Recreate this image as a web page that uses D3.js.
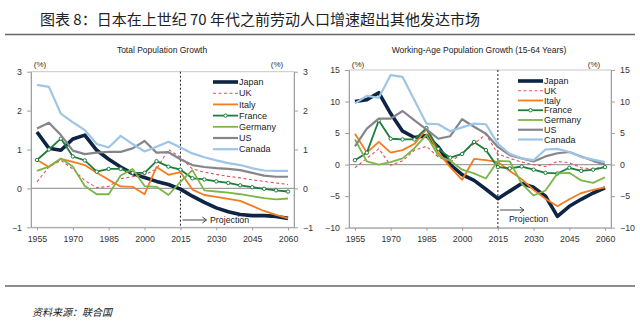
<!DOCTYPE html>
<html>
<head>
<meta charset="utf-8">
<script src="https://cdn.jsdelivr.net/npm/d3@7"></script>
<style>
  body { margin: 0; background: #fff; }
  svg { display: block; font-family: "Liberation Sans", Arial, sans-serif; }
</style>
</head>
<body>
<svg id="chart" width="640" height="325"></svg>
<script>
// Years on the category axis, one point every 5 years
const years = d3.range(1955, 2061, 5);
const tickYears = [1955, 1970, 1985, 2000, 2015, 2030, 2045, 2060];
const countries = ["Japan", "UK", "Italy", "France", "Germany", "US", "Canada"];

// Total population growth (%)
const totJapan   = [1.45, 1.03, 0.98, 1.27, 1.37, 0.98, 0.75, 0.55, 0.38, 0.28, 0.18, 0.1, -0.02, -0.2, -0.36, -0.5, -0.6, -0.67, -0.7, -0.7, -0.72, -0.77];
const totUK      = [0.17, 0.55, 0.72, 0.5, 0.2, 0.02, 0.05, 0.25, 0.3, 0.35, 0.5, 1.0, 0.8, 0.5, 0.42, 0.36, 0.31, 0.27, 0.22, 0.18, 0.14, 0.1];
const totItaly   = [0.73, 0.55, 0.76, 0.68, 0.6, 0.4, 0.22, 0.05, 0.04, -0.15, 0.55, 0.35, 0.42, -0.03, -0.17, -0.22, -0.27, -0.32, -0.45, -0.58, -0.68, -0.77];
const totFrance  = [0.73, 1.0, 1.28, 0.82, 0.72, 0.43, 0.5, 0.5, 0.4, 0.4, 0.7, 0.56, 0.48, 0.26, 0.23, 0.18, 0.14, 0.08, 0.03, -0.01, -0.05, -0.08];
const totGermany = [0.45, 0.56, 0.77, 0.56, 0.06, -0.15, -0.15, 0.33, 0.5, 0.06, 0.04, -0.17, 0.17, 0.47, -0.05, -0.08, -0.11, -0.15, -0.2, -0.25, -0.28, -0.26];
const totUS      = [1.54, 1.69, 1.37, 0.97, 0.88, 0.92, 0.94, 0.94, 1.03, 1.22, 0.92, 0.93, 0.75, 0.6, 0.55, 0.52, 0.5, 0.47, 0.4, 0.33, 0.3, 0.3];
const totCanada  = [2.66, 2.61, 1.92, 1.7, 1.5, 1.14, 1.05, 1.35, 1.14, 0.95, 1.07, 1.2, 1.05, 0.9, 0.8, 0.72, 0.65, 0.6, 0.52, 0.46, 0.45, 0.45];

// Working-age (15-64) population growth (%)
const wapJapan   = [10, 10.3, 11.4, 8.1, 5.3, 4.3, 4.6, 2.8, 0, -1.6, -2.5, -3.9, -5.4, -4.2, -3.0, -3.6, -5.0, -8.2, -6.6, -5.5, -4.5, -3.7];
const wapUK      = [-0.5, 1.0, 2.5, -0.1, 0.6, 2.3, 2.9, 1.2, 0.4, 1.8, 3.3, 4.8, 1.7, 1.0, 0.4, 0.0, -0.3, 0.5, 0.3, -0.5, -0.7, -0.3];
const wapItaly   = [4.9, 1.9, 3.6, 1.9, 2.3, 3.3, 5.6, 1.9, -0.4, -2.4, 0.9, 0.7, 0.4, -1.0, -2.3, -4.0, -5.4, -6.6, -5.5, -4.5, -4.0, -3.6];
const wapFrance  = [0.7, 1.9, 7.0, 4.1, 4.0, 4.0, 5.8, 2.5, 1.1, 1.7, 3.6, 2.3, -0.4, -0.6, -0.3, -0.8, -1.3, -1.4, -0.5, -1.0, -0.8, -0.4];
const wapGermany = [4.0, 0.5, 0.0, 0.4, 1.0, 2.6, 4.7, 1.4, 0.6, -0.8, -1.4, -2.2, 0.6, 0.5, -3.0, -4.9, -4.1, -1.4, -1.3, -2.5, -2.9, -2.0];
const wapUS      = [2.9, 5.7, 7.3, 7.3, 8.5, 7.0, 5.6, 4.1, 4.5, 7.2, 6.0, 4.9, 2.8, 1.5, 1.0, 0.5, 1.3, 1.8, 2.0, 1.3, 0.6, 0.0];
const wapCanada  = [9.7, 10.9, 10.6, 14.2, 13.9, 10.2, 6.5, 6.4, 5.3, 5.9, 6.5, 6.4, 3.3, 1.7, 1.0, 0.7, 2.4, 2.5, 2.0, 1.2, 0.8, 0.4];

const totTicks = [-1, 0, 1, 2, 3];
const wapTicks = [-10, -5, 0, 5, 10, 15];

// line style for each country
const styles = {
  Japan:   { color: "#0d2444", width: 3.6 },
  UK:      { color: "#e0505a", width: 1.1, dash: "3,2.5" },
  Italy:   { color: "#f47b20", width: 1.8 },
  France:  { color: "#1e7d3c", width: 1.8, marker: true },
  Germany: { color: "#7ab648", width: 1.8 },
  US:      { color: "#85858c", width: 2.2 },
  Canada:  { color: "#9fc5e6", width: 2.2 }
};

const svg = d3.select("#chart");

// page title and rules
svg.append("text")
  .attr("x", 40).attr("y", 25)
  .attr("font-family", "'Noto Sans CJK SC', sans-serif")
  .attr("font-size", 15).attr("fill", "#222")
  .text("图表 8：日本在上世纪 70 年代之前劳动人口增速超出其他发达市场");
svg.append("line").attr("x1", 5).attr("x2", 635).attr("y1", 34.5).attr("y2", 34.5)
  .attr("stroke", "#666").attr("stroke-width", 1.6);
svg.append("line").attr("x1", 5).attr("x2", 635).attr("y1", 286).attr("y2", 286)
  .attr("stroke", "#666").attr("stroke-width", 1.6);
svg.append("text")
  .attr("x", 32).attr("y", 316)
  .attr("font-family", "'Noto Sans CJK SC', sans-serif")
  .attr("font-size", 10).attr("font-style", "italic").attr("fill", "#222")
  .text("资料来源：联合国");

function drawPanel(p) {
  const g = svg.append("g");
  const x = d3.scalePoint().domain(years).range([p.left, p.right]).padding(0.5);
  const y = d3.scaleLinear().domain(p.domain).range([p.bottom, p.top]);

  // title and unit labels
  g.append("text").attr("x", p.titleX).attr("y", 53).attr("text-anchor", "middle")
    .attr("font-size", 8.5).attr("fill", "#222").text(p.title);
  g.append("text").attr("x", p.left + 9).attr("y", 66.5).attr("text-anchor", "middle")
    .attr("font-size", 8).attr("fill", "#333").text("(%)");
  g.append("text").attr("x", p.right - 17).attr("y", 66.5).attr("text-anchor", "middle")
    .attr("font-size", 8).attr("fill", "#333").text("(%)");

  // frame
  g.append("rect").attr("x", p.left).attr("y", p.top)
    .attr("width", p.right - p.left).attr("height", p.bottom - p.top)
    .attr("fill", "none").attr("stroke", "#c8c8c8").attr("stroke-width", 1);

  // axes
  const styleAxis = sel => {
    sel.select(".domain").attr("stroke", "#a0a0a0");
    sel.selectAll(".tick line").attr("stroke", "#a0a0a0");
    sel.selectAll(".tick text").attr("fill", "#333").attr("font-size", 8.8)
      .attr("font-family", "'Liberation Sans', Arial, sans-serif");
  };
  const fmt = d3.format("d");
  g.append("g").attr("transform", `translate(${p.left},0)`)
    .call(d3.axisLeft(y).tickValues(p.ticks).tickFormat(fmt).tickSize(4).tickPadding(5).tickSizeOuter(0))
    .call(styleAxis);
  g.append("g").attr("transform", `translate(${p.right},0)`)
    .call(d3.axisRight(y).tickValues(p.ticks).tickFormat(fmt).tickSize(4).tickPadding(5).tickSizeOuter(0))
    .call(styleAxis);
  g.append("g").attr("transform", `translate(0,${p.bottom})`)
    .call(d3.axisBottom(x).tickValues(tickYears).tickSize(3).tickPadding(5).tickSizeOuter(0))
    .call(styleAxis);

  // zero line
  g.append("line").attr("x1", p.left).attr("x2", p.right)
    .attr("y1", y(0)).attr("y2", y(0))
    .attr("stroke", "#a0a0a0").attr("stroke-width", 1.2);

  // projection divider
  const xp = x(2015);
  g.append("line").attr("x1", xp).attr("x2", xp).attr("y1", p.top).attr("y2", p.bottom)
    .attr("stroke", "#222").attr("stroke-width", 1).attr("stroke-dasharray", "2,2");

  // lines
  const line = d3.line().x((d, i) => x(years[i])).y(d => y(d));
  countries.forEach(c => {
    const s = styles[c];
    g.append("path").datum(p.series[c])
      .attr("d", line)
      .attr("fill", "none")
      .attr("stroke", s.color)
      .attr("stroke-width", s.width)
      .attr("stroke-linejoin", "round")
      .attr("stroke-dasharray", s.dash || null);
    if (s.marker) {
      g.selectAll(null).data(p.series[c]).enter().append("circle")
        .attr("cx", (d, i) => x(years[i])).attr("cy", d => y(d))
        .attr("r", 1.7).attr("fill", "#fff")
        .attr("stroke", s.color).attr("stroke-width", 1);
    }
  });

  // projection arrow and label
  const ay = p.arrowY;
  g.append("line").attr("x1", xp + 2).attr("x2", xp + 26).attr("y1", ay).attr("y2", ay)
    .attr("stroke", "#333").attr("stroke-width", 0.9);
  g.append("path")
    .attr("d", `M${xp + 22},${ay - 3}L${xp + 26},${ay}L${xp + 22},${ay + 3}`)
    .attr("fill", "none").attr("stroke", "#333").attr("stroke-width", 0.9);
  g.append("text").attr("x", p.projX).attr("y", p.projY)
    .attr("font-size", 8.8).attr("fill", "#222").text("Projection");

  // legend
  const lg = g.append("g");
  countries.forEach((c, i) => {
    const s = styles[c];
    const ly = p.legY + i * p.legStep;
    lg.append("line").attr("x1", p.legX).attr("x2", p.legX + 25)
      .attr("y1", ly).attr("y2", ly)
      .attr("stroke", s.color).attr("stroke-width", s.width)
      .attr("stroke-dasharray", s.dash || null);
    if (s.marker) {
      lg.append("circle").attr("cx", p.legX + 12.5).attr("cy", ly).attr("r", 1.7)
        .attr("fill", "#fff").attr("stroke", s.color).attr("stroke-width", 1);
    }
    lg.append("text").attr("x", p.legX + 26).attr("y", ly + 3.2)
      .attr("font-size", 9).attr("fill", "#222").text(c);
  });
}

drawPanel({
  title: "Total Population Growth", titleX: 162,
  left: 31, right: 294, top: 71.7, bottom: 227.3,
  domain: [-1, 3], ticks: totTicks,
  series: { Japan: totJapan, UK: totUK, Italy: totItaly, France: totFrance,
            Germany: totGermany, US: totUS, Canada: totCanada },
  arrowY: 220, projX: 210, projY: 223,
  legX: 213, legY: 82, legStep: 11.2
});

drawPanel({
  title: "Working-Age Population Growth (15-64 Years)", titleX: 479,
  left: 349, right: 611, top: 70, bottom: 227.7,
  domain: [-10, 15], ticks: wapTicks,
  series: { Japan: wapJapan, UK: wapUK, Italy: wapItaly, France: wapFrance,
            Germany: wapGermany, US: wapUS, Canada: wapCanada },
  arrowY: 210, projX: 509, projY: 222,
  legX: 518, legY: 81, legStep: 9.75
});
</script>
</body>
</html>
